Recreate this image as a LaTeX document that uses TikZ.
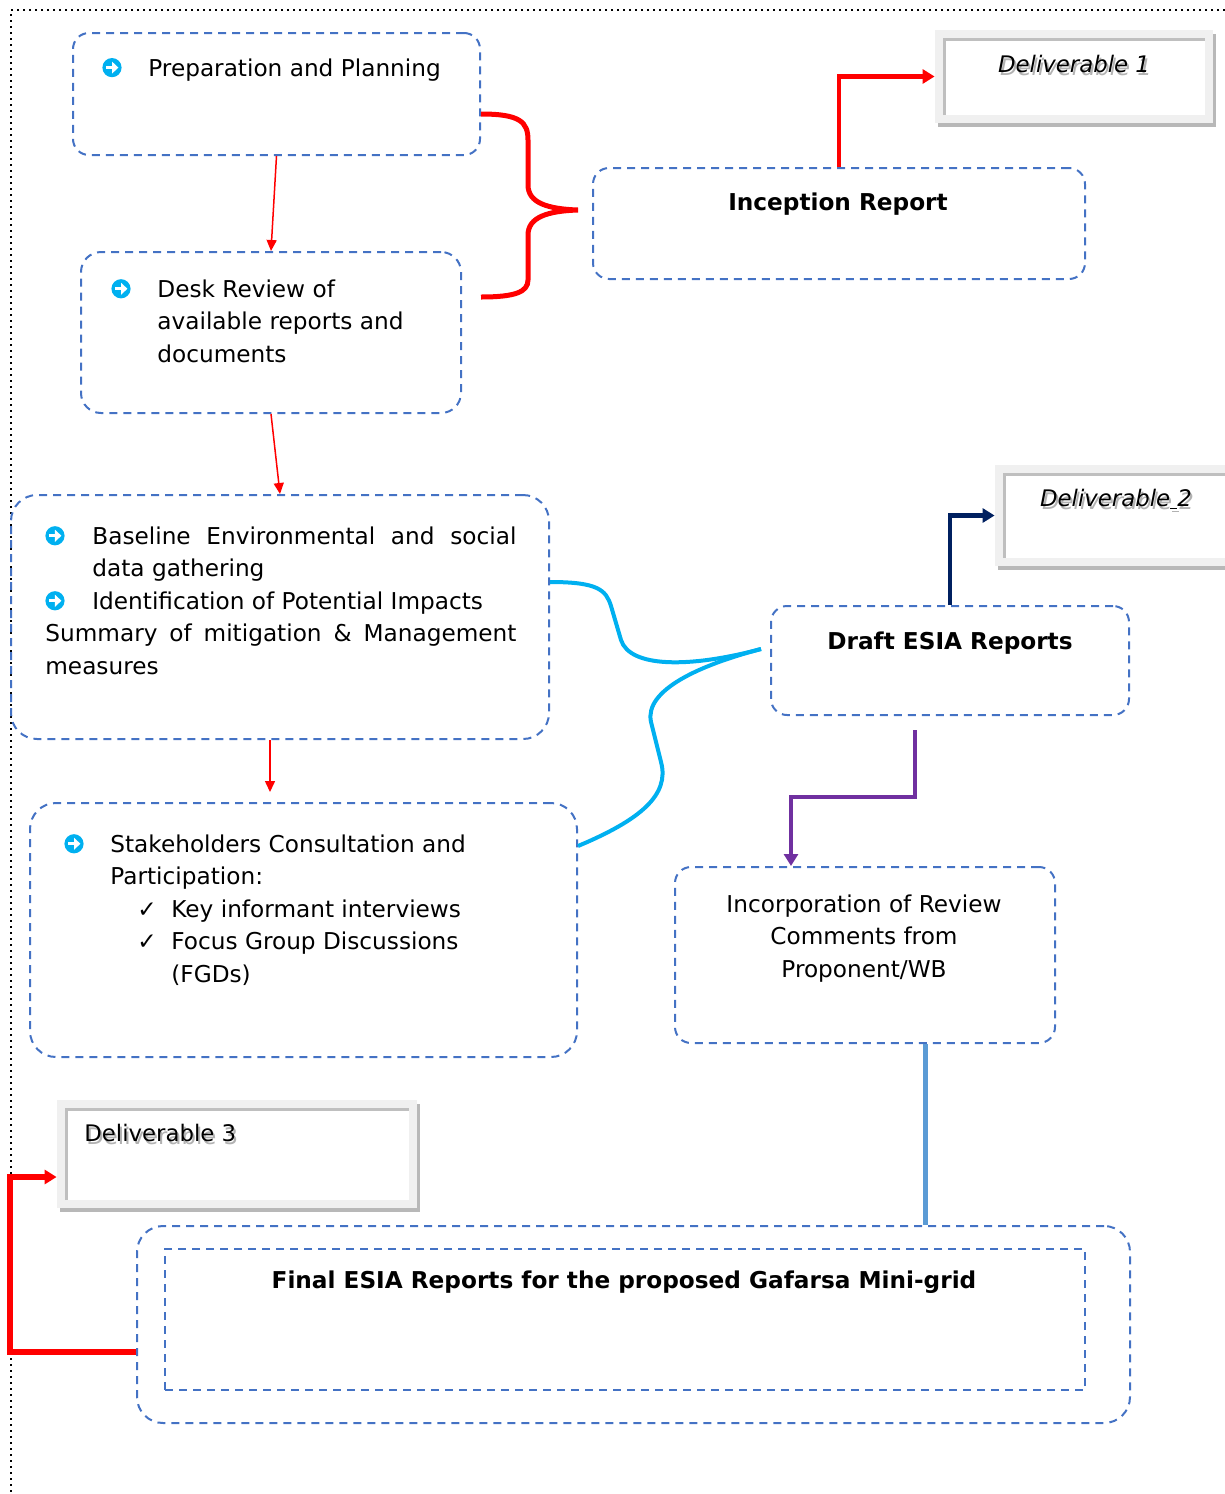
\documentclass[tikz,border=0pt]{standalone}
\usepackage{fontspec}
\setmainfont{DejaVu Sans}
\usetikzlibrary{arrows.meta,shadows}
\definecolor{dashblue}{HTML}{4472C4}
\definecolor{bulcyan}{HTML}{00B0F0}
\definecolor{navyblue}{HTML}{002060}
\definecolor{reviewpurple}{HTML}{7030A0}
\definecolor{lineblue}{HTML}{5B9BD5}
\newcommand\arrbul{\tikz[baseline={(0pt,-4.2pt)}]{\fill[bulcyan] (0pt,0pt) circle[radius=4.8pt];
		\draw[white,line width=1.4pt] (-3pt,0pt) -- (0.5pt,0pt); \fill[white] (3.2pt,0pt) -- (0pt,3pt) -- (0pt,-3pt) -- cycle;}}
\newcommand\shtext[1]{\makebox[0pt][l]{\hspace*{1pt}\raisebox{-1.5pt}{\color{black!30}#1}}#1}
\newcommand\bodyfont{\fontsize{11.6}{16.25}\selectfont}
\newcommand\delfont{\fontsize{11.4}{14}\selectfont}
\begin{document}
\begin{tikzpicture}[x=.5pt,y=-.5pt,
	stepbox/.style={draw=dashblue,line width=1pt,dash pattern=on 4pt off 3pt,rounded corners=8pt},
	bigbox/.style={stepbox,rounded corners=13pt},
	delivbox/.style={fill=black!6,drop shadow={shadow xshift=1.5pt,shadow yshift=-2pt,fill=black!28,opacity=1},
		path picture={\fill[white] ([shift={(4pt,-4pt)}]path picture bounding box.north west) rectangle ([shift={(-4pt,4pt)}]path picture bounding box.south east);
			\draw[black!25,line width=1.5pt] ([shift={(4.5pt,4pt)}]path picture bounding box.south west) |- ([shift={(-4pt,-4.5pt)}]path picture bounding box.north east);}},
	txt/.style={font=\bodyfont,inner sep=0pt,align=left,anchor=base west},
	mtxt/.style={font=\bodyfont,inner sep=0pt,align=left,anchor=north west},
	ctxt/.style={font=\bodyfont,inner sep=0pt,align=center,anchor=base},
	thinarrow/.style={red,line width=.75pt,-{Triangle[length=5.5pt,width=5pt]}},
	thickarrow/.style={line width=2.3pt,-{Triangle[length=6pt,width=7pt]}},
	cyancurve/.style={bulcyan,line width=2pt}]
	\useasboundingbox (0,0) rectangle (1225,1494);
	\draw[dotted,line width=1pt] (1225,10) -- (11,10) -- (11,1494);
	
	\node[stepbox,minimum width=203.5pt,minimum height=61pt] (prep) at (276.5,94) {};
	\node[txt] (preptxt) at (102,76) {\makebox[23pt][l]{\arrbul}Preparation and Planning};
	
	\node[stepbox,rounded corners=10pt,minimum width=190pt,minimum height=80.5pt] (desk) at (271,332.5) {};
	\node[mtxt] (desktxt) at (111,274) {\strut\makebox[23pt][l]{\arrbul}Desk Review of\\ \hspace*{23pt}available reports and\\ \hspace*{23pt}documents};
	
	\node[bigbox,minimum width=269pt,minimum height=122pt] (base) at (280,617) {};
	\node[mtxt] (basetxt) at (45,521) {\strut\makebox[23.5pt][l]{\arrbul}\makebox[212pt][s]{Baseline Environmental and social}\\
		\hspace*{23.5pt}data gathering\\
		\makebox[23.5pt][l]{\arrbul}Identification of Potential Impacts\\
		\makebox[235.5pt][s]{Summary of mitigation \& Management}\\
		measures};
	
	\node[bigbox,minimum width=273.5pt,minimum height=127pt] (stake) at (303.5,930) {};
	\node[mtxt] (staketxt) at (64,829) {\strut\makebox[23pt][l]{\arrbul}Stakeholders Consultation and\\
		\hspace*{23pt}Participation:\\
		\hspace*{36.5pt}\makebox[17pt][l]{✓}Key informant interviews\\
		\hspace*{36.5pt}\makebox[17pt][l]{✓}Focus Group Discussions\\
		\hspace*{53.5pt}(FGDs)};
	
	\node[stepbox,minimum width=246pt,minimum height=55.5pt] (incep) at (839,223.5) {};
	\node[ctxt,font=\bodyfont\bfseries] (inceptxt) at (838,210) {Inception Report};
	
	\node[stepbox,minimum width=179pt,minimum height=54.5pt] (draft) at (950,660.5) {};
	\node[ctxt,font=\bodyfont\bfseries] (drafttxt) at (950,649) {Draft ESIA Reports};
	
	\node[stepbox,minimum width=190pt,minimum height=88pt] (incorp) at (865,955) {};
	\node[ctxt,anchor=north] (incorptxt) at (864,889) {\strut Incorporation of Review\\ Comments from\\ Proponent/WB};
	
	\node[bigbox,minimum width=496.5pt,minimum height=98.5pt] (final) at (633.5,1324.5) {};
	\node[stepbox,sharp corners,minimum width=460pt,minimum height=70.5pt] (finalin) at (625,1319.5) {};
	\node[ctxt,font=\bodyfont\bfseries] (finaltxt) at (624,1288) {Final ESIA Reports for the proposed Gafarsa Mini-grid};
	
	\node[delivbox,minimum width=139pt,minimum height=46.5pt] (del1) at (1074,76.5) {};
	\node[ctxt,font=\delfont\itshape] (del1txt) at (1074,72) {\shtext{Deliverable 1}};
	\node[delivbox,minimum width=122.5pt,minimum height=50.5pt] (del2) at (1117.5,515.5) {};
	\node[ctxt,font=\delfont\itshape] (del2txt) at (1116,506) {\shtext{Deliverable\underline{\ }2}};
	\node[delivbox,minimum width=180pt,minimum height=54pt] (del3) at (237,1154) {};
	\node[txt,font=\delfont] (del3txt) at (84,1141) {\shtext{Deliverable 3}};
	
	\draw[red,line width=2.5pt] (481,114) .. controls (520,114) and (528,122) .. (528,140) -- (528,185)
		.. controls (528,203) and (548,209) .. (578,210) .. controls (548,211) and (528,217) .. (528,235)
		-- (528,280) .. controls (528,292) and (515,297) .. (481,297);
	
	\draw[thinarrow] (prep.south) -- (desk.north);
	\draw[thinarrow] (desk.south) -- (base.north);
	\draw[thinarrow] ([xshift=-5pt]base.south) -- ++(0,52);
	
	\coordinate (cyanend) at ([shift={(-4.5pt,5.75pt)}]draft.west);
	\draw[cyancurve] ([yshift=17.5pt]base.east) .. controls (598,582) and (606,590) .. (611,606) -- (621,640)
		.. controls (630,668) and (690,668) .. (cyanend);
	\draw[cyancurve] ([yshift=42pt]stake.east) .. controls (640,820) and (670,795) .. (661,762) -- (651,722)
		.. controls (644,690) and (700,665) .. (cyanend);
	
	\draw[thickarrow,red] (incep.north) |- (del1.west);
	\draw[thickarrow,navyblue] (draft.north) |- (del2.west);
	\coordinate (pstart) at (915,730);
	\draw[thickarrow,reviewpurple,line width=2pt] (pstart) -- ++(0,67) -| ([xshift=-37pt]incorp.north);
	\draw[lineblue,line width=2.5pt] ([xshift=30pt]incorp.south) -- ([xshift=30pt]incorp.south |- final.north);
	\coordinate (redcorner) at (10,1352);
	\draw[thickarrow,red,line width=2.6pt] ([yshift=-13.75pt]final.west) -- (redcorner) |- ([yshift=-11.5pt]del3.west);
\end{tikzpicture}
\end{document}
